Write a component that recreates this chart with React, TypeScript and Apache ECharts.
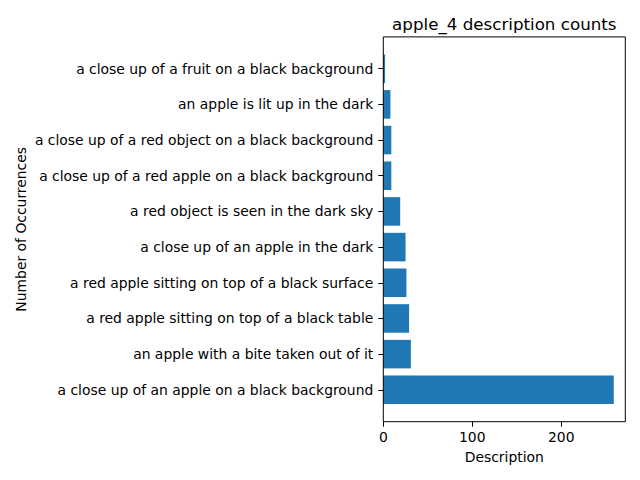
import React, { useEffect, useRef } from "react";
import * as echarts from "echarts";

const categories = [
  "a close up of an apple on a black background",
  "an apple with a bite taken out of it",
  "a red apple sitting on top of a black table",
  "a red apple sitting on top of a black surface",
  "a close up of an apple in the dark",
  "a red object is seen in the dark sky",
  "a close up of a red apple on a black background",
  "a close up of a red object on a black background",
  "an apple is lit up in the dark",
  "a close up of a fruit on a black background",
];
const counts = [259, 31, 29, 26, 25, 19, 9, 9, 8, 2];
const xTicks = [0, 100, 200];

const FONT = "DejaVu Sans";

export default function App() {
  const ref = useRef<HTMLDivElement>(null);
  useEffect(() => {
    if (!ref.current) return;
    const chart = echarts.init(ref.current, null, { renderer: "svg" });
    const maxX = Math.max(...counts) * 1.05;
    const L = 383.3, R = 625.3, T = 36.9, B = 421.7;
    chart.setOption({
      animation: false,
      textStyle: { fontFamily: FONT },
      graphic: [
        {
          type: "text",
          x: (L + R) / 2,
          y: 24,
          style: {
            text: "apple_4 description counts",
            font: `16.7px "${FONT}"`,
            fill: "#000",
            textAlign: "center",
            textVerticalAlign: "middle",
          },
        },
        {
          type: "text",
          x: 21,
          y: (T + B) / 2,
          rotation: Math.PI / 2,
          style: {
            text: "Number of Occurrences",
            font: `13.9px "${FONT}"`,
            fill: "#000",
            textAlign: "center",
            textVerticalAlign: "middle",
          },
        },
        {
          type: "rect",
          z: 100,
          shape: { x: L, y: T, width: R - L, height: B - T },
          style: { fill: "none", stroke: "#000", lineWidth: 1 },
        },
      ],
      grid: [
        { left: L, right: 640 - R, top: T, bottom: 480 - B },
        { left: L, right: 640 - R, top: 50.86, bottom: 480 - 407.64 },
      ],
      xAxis: [
        {
          gridIndex: 0,
          type: "value",
          min: 0,
          max: maxX,
          interval: 100,
          name: "Description",
          nameLocation: "middle",
          nameGap: 28,
          nameTextStyle: { fontFamily: FONT, fontSize: 13.9, color: "#000" },
          axisLine: { show: false },
          axisTick: { show: true, length: 5, lineStyle: { color: "#000" }, customValues: xTicks },
          axisLabel: {
            fontFamily: FONT,
            fontSize: 13.9,
            color: "#000",
            margin: 8,
            customValues: xTicks,
          },
          splitLine: { show: false },
        },
        {
          gridIndex: 1,
          type: "value",
          min: 0,
          max: maxX,
          show: false,
          splitLine: { show: false },
        },
      ],
      yAxis: [
        {
          gridIndex: 0,
          type: "value",
          min: 0,
          max: 1,
          show: false,
          splitLine: { show: false },
        },
        {
          gridIndex: 1,
          type: "category",
          data: categories,
          axisLine: { show: false },
          axisTick: { show: true, alignWithLabel: true, length: 5, lineStyle: { color: "#000" } },
          axisLabel: { fontFamily: FONT, fontSize: 13.9, color: "#000", margin: 10 },
          splitLine: { show: false },
        },
      ],
      series: [
        {
          type: "bar",
          xAxisIndex: 1,
          yAxisIndex: 1,
          data: counts,
          barWidth: "80%",
          itemStyle: { color: "#1f77b4" },
        },
      ],
    });
    return () => chart.dispose();
  }, []);
  return <div ref={ref} style={{ width: 640, height: 480, position: "absolute", left: 0, top: 0 }} />;
}
